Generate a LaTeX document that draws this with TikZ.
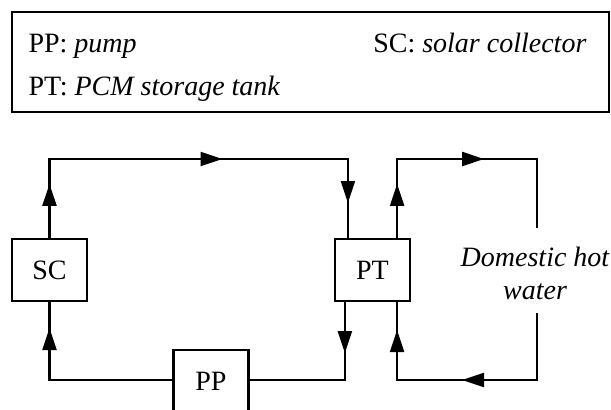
\documentclass[tikz,border=0pt]{standalone}
\usepackage{fontspec}
\setmainfont{Liberation Serif}
\usetikzlibrary{arrows.meta,positioning,calc,decorations.markings}

\begin{document}
\begin{tikzpicture}[x=1pt,y=-1pt, font=\fontsize{28}{33}\selectfont,
  pipe/.style={line width=2.2pt},
  box/.style={draw,pipe,fill=white,minimum width=75pt,minimum height=62pt,inner sep=0pt},
  flow/.style={pipe,postaction={decorate},decoration={markings,mark=at position #1 with {\arrow{Triangle[length=22pt,width=14pt]}}}}]
\useasboundingbox (0,0) rectangle (611,410);
\node[draw,pipe,minimum width=597pt,minimum height=100pt,inner sep=0pt] (key) at (310.5,62) {};
\node[anchor=base west] (kpp) at (25,52) {PP: \textit{pump}};
\node[anchor=base west] (kpt) at (25,95) {PT: \textit{PCM storage tank}};
\node[anchor=base east] (ksc) at (590,52) {SC: \textit{solar collector}};
\node[box] (sc) at (49.5,270) {SC};
\node[box] (pt) at (372.5,270) {PT};
\node[box] (pp) at (211,381) {PP};
\node[align=center,font=\fontsize{28}{33}\selectfont\itshape] (dhw) at (535,273) {Domestic hot\\water};
\coordinate (ptinl) at ([xshift=14pt]pt.north west);
\coordinate (ptoutl) at ([xshift=11pt]pt.south west);
\coordinate (ptoutr) at ([xshift=-14pt]pt.north east);
\coordinate (ptinr) at ([xshift=-14pt]pt.south east);
\coordinate (tl) at (sc.north |- 0,159);
\coordinate (tr) at (ptinl |- 0,159);
\coordinate (bl) at (sc.south |- 0,380);
\coordinate (br) at (ptoutl |- 0,380);
\coordinate (htl) at (ptoutr |- 0,159);
\coordinate (htr) at (537,159);
\coordinate (hbl) at (ptinr |- 0,380);
\coordinate (hbr) at (537,380);
\coordinate (gapt) at (537,228);
\coordinate (gapb) at (537,313);
\draw[pipe] (sc.north) -- (tl) -- (tr) -- (ptinl);
\draw[pipe] (ptoutl) -- (br) -- (pp.east |- br);
\draw[pipe] (pp.west |- bl) -- (bl) -- (sc.south);
\draw[pipe] (ptoutr) -- (htl) -- (htr) -- (gapt);
\draw[pipe] (gapb) -- (hbr) -- (hbl) -- (ptinr);
\path[flow=54pt] (sc.north) -- (tl);
\path[flow=173pt] (tl) -- (tr);
\path[flow=44pt] (tr) -- (ptinl);
\path[flow=51pt] (ptoutl) -- (br);
\path[flow=52pt] (bl) -- (sc.south);
\path[flow=54pt] (ptoutr) -- (htl);
\path[flow=87pt] (htl) -- (htr);
\path[flow=75pt] (hbr) -- (hbl);
\path[flow=50pt] (hbl) -- (ptinr);
\end{tikzpicture}
\end{document}
